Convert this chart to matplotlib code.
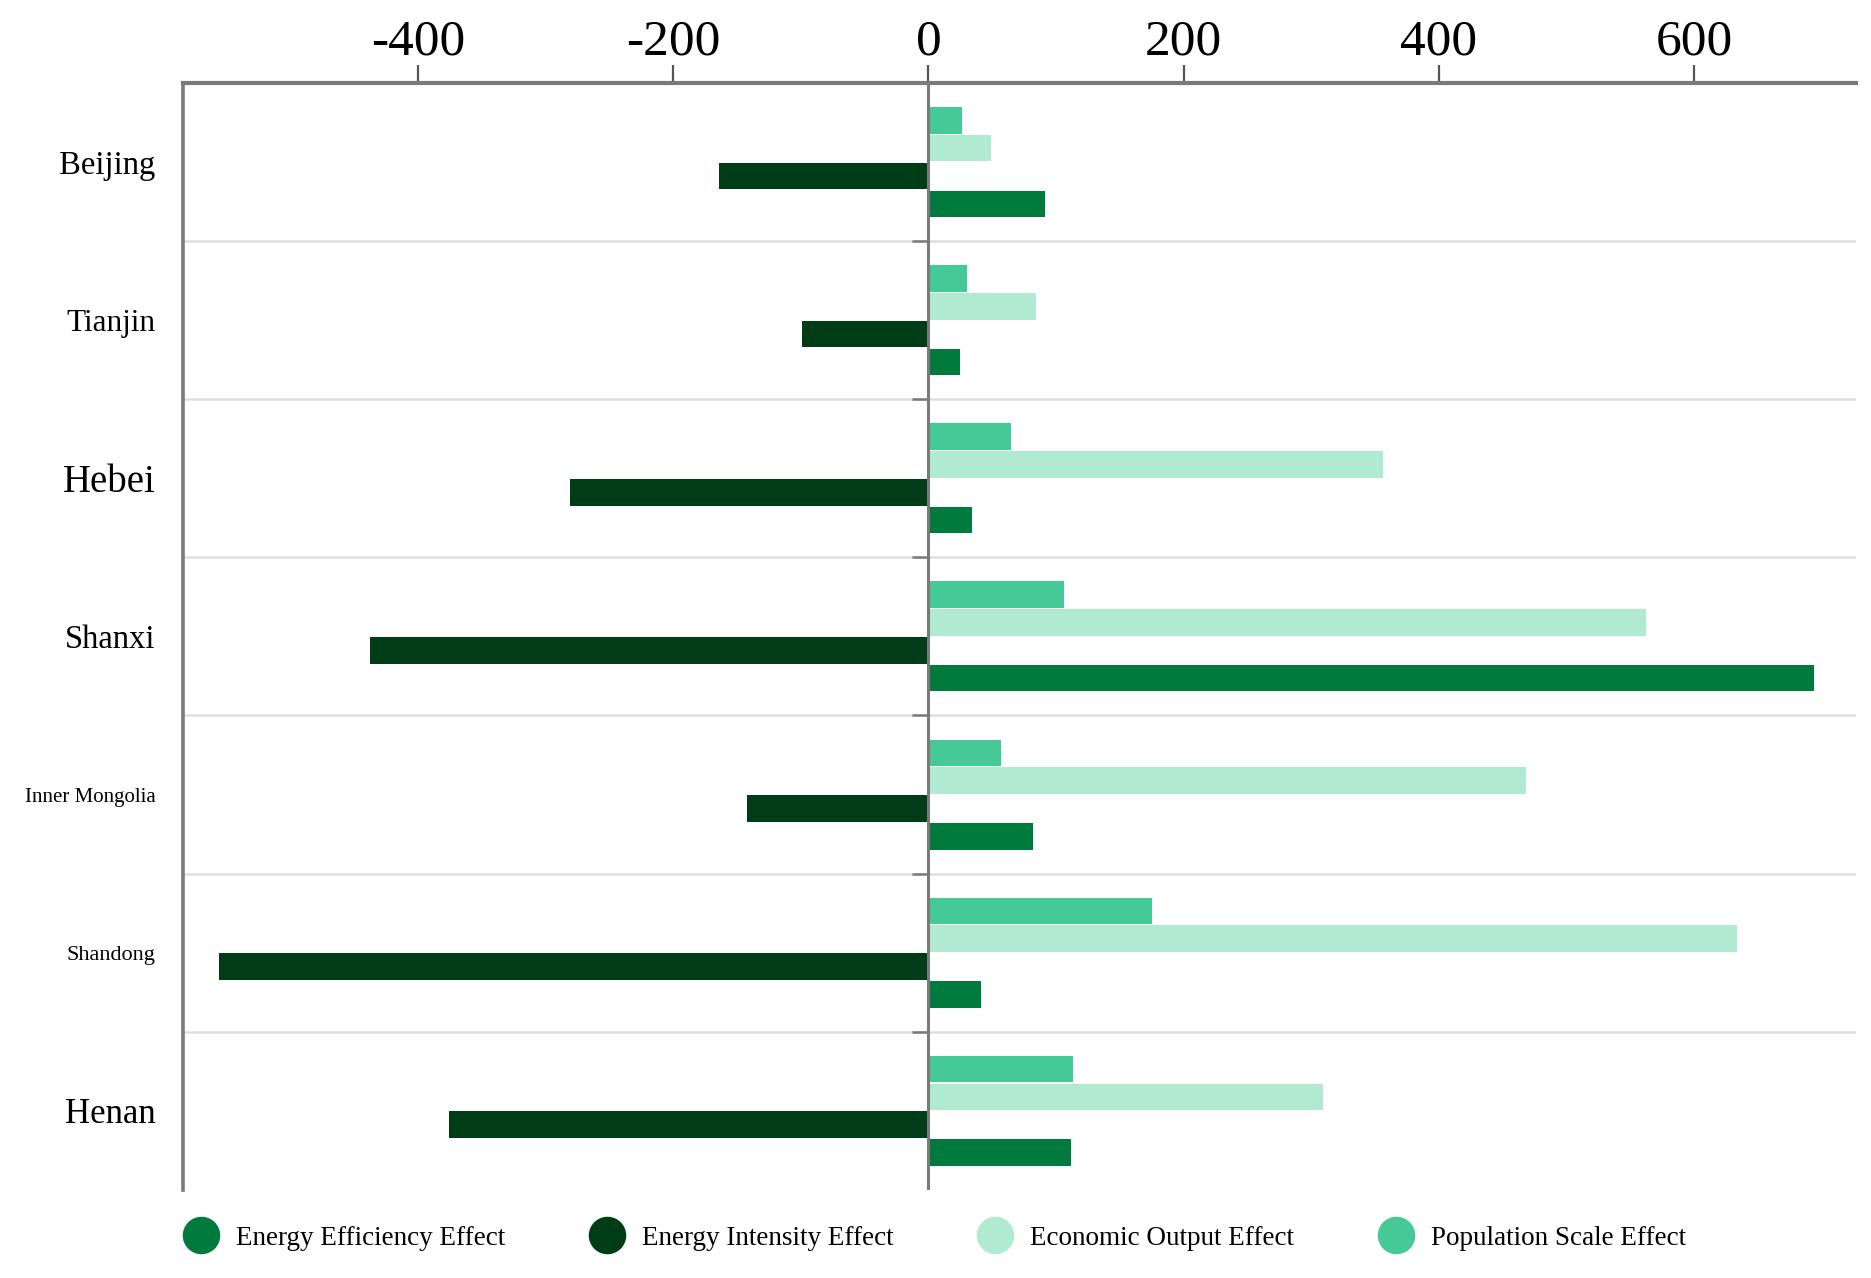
import numpy as np
import matplotlib
matplotlib.use("Agg")
import matplotlib.pyplot as plt
from matplotlib.lines import Line2D

plt.rcParams['font.family'] = ['Liberation Serif', 'DejaVu Serif']

# Data
provinces = ['Beijing', 'Tianjin', 'Hebei', 'Shanxi', 'Inner Mongolia', 'Shandong', 'Henan']
population_scale = [26, 30, 65, 106, 57, 175, 113]
economic_output = [49, 84, 356, 562, 468, 634, 309]
energy_intensity = [-164, -99, -281, -438, -142, -556, -376]
energy_efficiency = [91, 25, 34, 694, 82, 41, 112]

label_sizes = [23.5, 22.5, 28, 23.5, 15, 16, 25]

colors = {
    'Energy Efficiency Effect': '#007a3d',
    'Energy Intensity Effect': '#003d16',
    'Economic Output Effect': '#b0ebd1',
    'Population Scale Effect': '#45c996',
}

fig = plt.figure(figsize=(18.71, 12.78), dpi=100)
ax = fig.add_axes([0.098, 0.069, 0.894, 0.866])

y = np.arange(len(provinces))
step = 0.176
h = 0.168

# top to bottom within each group
series = [
    ('Population Scale Effect', population_scale),
    ('Economic Output Effect', economic_output),
    ('Energy Intensity Effect', energy_intensity),
    ('Energy Efficiency Effect', energy_efficiency),
]
for idx, (name, vals) in enumerate(series):
    ax.barh(y + (idx - 1.5) * step, vals, height=h, color=colors[name], zorder=3)

ax.set_ylim(len(provinces) - 0.5, -0.5)
ax.set_xlim(-584, 727)

# group separators
bounds = np.arange(1, len(provinces)) - 0.5
for b in bounds:
    ax.axhline(b, color='#dedede', lw=1.8, zorder=1)

# zero line with little ticks
ax.axvline(0, color='#7a7a7a', lw=2.2, zorder=4)
ax.hlines(bounds, -13, 0, color='#7a7a7a', lw=1.8, zorder=4)

ax.xaxis.tick_top()
ax.set_xticks([-400, -200, 0, 200, 400, 600])
ax.set_xticklabels(['-400', '-200', '0', '200', '400', '600'], fontsize=37)
ax.tick_params(axis='x', direction='out', length=13, width=1.6, color='#555555', pad=0)

ax.set_yticks(y)
ax.set_yticklabels(provinces)
for lab, fs in zip(ax.get_yticklabels(), label_sizes):
    lab.set_fontsize(fs)
ax.tick_params(axis='y', length=0, pad=20)

for s in ['right', 'bottom']:
    ax.spines[s].set_visible(False)
ax.spines['top'].set_color('#7a7a7a')
ax.spines['top'].set_linewidth(3)
ax.spines['left'].set_color('#7a7a7a')
ax.spines['left'].set_linewidth(2.6)

legend_order = ['Energy Efficiency Effect', 'Energy Intensity Effect',
                'Economic Output Effect', 'Population Scale Effect']
handles = [Line2D([], [], marker='o', linestyle='none', markersize=26,
                  markerfacecolor=colors[n], markeredgecolor=colors[n]) for n in legend_order]
fig.legend(handles, legend_order, loc='center', bbox_to_anchor=(0.497, 0.031), ncol=4,
           frameon=False, fontsize=19.5, handletextpad=0.3, columnspacing=2.75)

fig.savefig('out.png', dpi=100)
